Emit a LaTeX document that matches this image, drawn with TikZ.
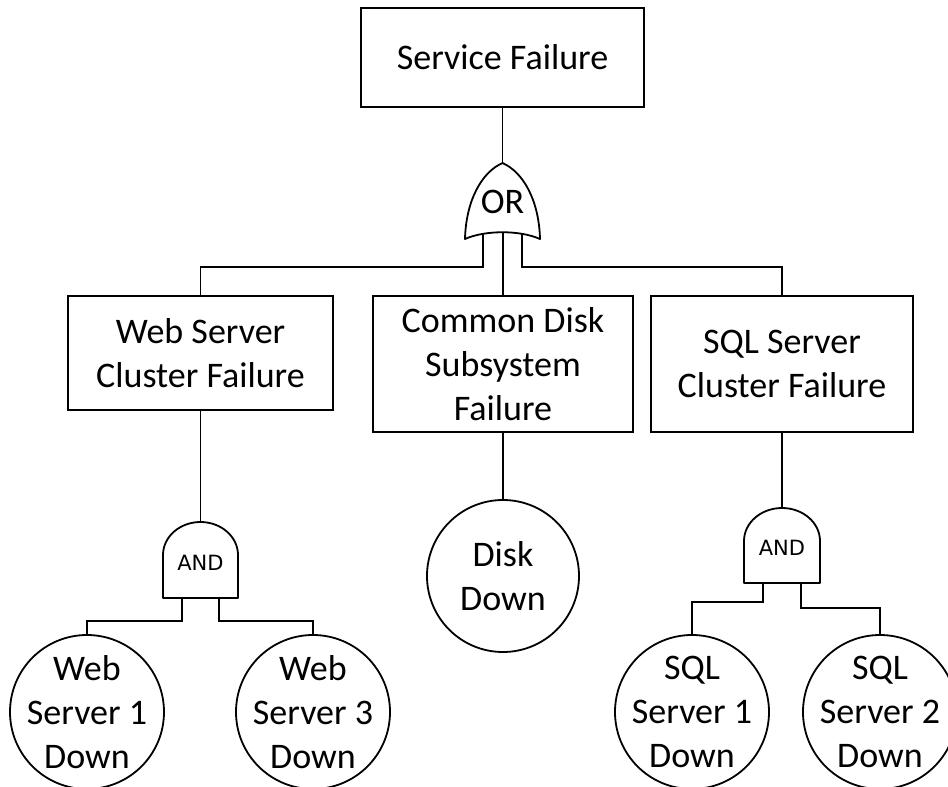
\documentclass[tikz,border=0pt]{standalone}
\usepackage{fontspec}
\setmainfont{Carlito}
\newfontfamily\gatefont{DejaVu Sans}
\begin{document}
\begin{tikzpicture}[x=1pt,y=-1pt,line width=1.8pt,
  big/.style={font=\fontsize{36}{44}\selectfont},
  box/.style={draw,rectangle,inner sep=0pt,align=center,big},
  event/.style={draw,circle,inner sep=0pt,minimum size=154pt},
  evtext/.style={align=center,inner sep=0pt,big},
  gate/.style={draw,fill=white,line join=round},
  andtext/.style={font=\gatefont\fontsize{21}{25}\selectfont,inner sep=0pt}]
\useasboundingbox (0,0) rectangle (948,787);

% events
\node[box,minimum width=283pt,minimum height=99pt] (sf) at (502.5,57.5) {Service Failure};
\node[box,minimum width=265pt,minimum height=114pt] (web) at (200.5,353) {Web Server\\Cluster Failure};
\node[box,minimum width=260pt,minimum height=136pt] (disk) at (503,364) {Common Disk\\Subsystem\\Failure};
\node[box,minimum width=262pt,minimum height=136pt] (sql) at (782,364) {SQL Server\\Cluster Failure};

% basic events
\node[event,minimum size=152pt] (dd) at (503,576) {};
\node[evtext] at (dd) {Disk\\Down};
\node[event] (w1) at (87,712) {};
\node[evtext] at (w1) {Web\\Server 1\\Down};
\node[event] (w3) at (313,712) {};
\node[evtext] at (w3) {Web\\Server 3\\Down};
\node[event] (s1) at (692,712) {};
\node[evtext] at (s1) {SQL\\Server 1\\Down};
\node[event] (s2) at (880,712) {};
\node[evtext] at (s2) {SQL\\Server 2\\Down};

% OR gate anchors
\coordinate (orTop) at (502.5,163);
\coordinate (orA) at (483,234);
\coordinate (orM) at (503,232);
\coordinate (orB) at (522,234);

% wires from the OR gate
\draw (sf.south) -- (orTop);
\draw (orA) -- ++(0,33) -| (web.north);
\draw (orM) -- (disk.north);
\draw (orB) -- ++(0,33) -| (sql.north);
\draw (disk.south) -- (dd.north);

% OR gate
\draw[gate] (465,239) .. controls (466,200) and (482,172) .. (orTop)
  .. controls (523,172) and (539,200) .. (540,239)
  .. controls (520,230) and (485,230) .. (465,239) -- cycle;
\node[big,anchor=base,inner sep=0pt] (orlabel) at (502.5,213) {OR};

% AND gate of the web cluster
\coordinate (andLtop) at (200.5,522);
\coordinate (andLa) at (182,598);
\coordinate (andLb) at (219,598);
\draw (web.south) -- (andLtop);
\draw (andLa) -- ++(0,23) -| (w1.north);
\draw (andLb) -- ++(0,23) -| (w3.north);
\draw[gate] (163,598) -- (163,555) .. controls (163,536.8) and (179.8,522) .. (andLtop)
  .. controls (221.2,522) and (238,536.8) .. (238,555) -- (238,598) -- cycle;
\node[andtext,anchor=base] (andL) at (200.5,570) {AND};

% AND gate of the SQL cluster
\coordinate (andRtop) at (782,508);
\coordinate (andRa) at (763,583);
\coordinate (andRb) at (801,583);
\draw (sql.south) -- (andRtop);
\draw (andRa) -- ++(0,19) -| (s1.north);
\draw (andRb) -- ++(0,25) -| (s2.north);
\draw[gate] (744,583) -- (744,541) .. controls (744,522.8) and (761,508) .. (andRtop)
  .. controls (803,508) and (820,522.8) .. (820,541) -- (820,583) -- cycle;
\node[andtext,anchor=base] (andR) at (782,555) {AND};
\end{tikzpicture}
\end{document}
